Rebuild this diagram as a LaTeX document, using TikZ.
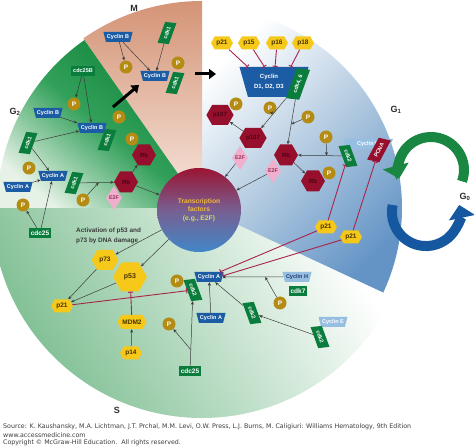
\documentclass[tikz,border=0pt]{standalone}
\usepackage{fontspec}
\setmainfont{Liberation Sans}
\newfontfamily\srcfont{DejaVu Sans}
\usepackage{tikz}
\usetikzlibrary{shapes.geometric,shapes.symbols,arrows.meta,calc}

\definecolor{cycBlue}{RGB}{28,92,165}
\definecolor{cycLight}{RGB}{150,190,225}
\definecolor{cdkGreen}{RGB}{10,125,60}
\definecolor{pGold}{RGB}{180,140,20}
\definecolor{pYel}{RGB}{245,200,25}
\definecolor{rbRed}{RGB}{150,15,45}
\definecolor{rbTxt}{RGB}{80,0,20}
\definecolor{hexTxt}{RGB}{70,50,0}
\definecolor{e2fPink}{RGB}{240,175,205}
\definecolor{e2fTxt}{RGB}{150,50,90}
\definecolor{inhRed}{RGB}{170,35,75}
\definecolor{arrGray}{RGB}{60,60,60}
\definecolor{g2Dark}{RGB}{15,130,55}
\definecolor{g2Mid}{RGB}{50,160,90}
\definecolor{g2Light}{RGB}{230,242,230}
\definecolor{sGreen}{RGB}{125,190,145}
\definecolor{g1Blue}{RGB}{100,148,198}
\definecolor{g1Mid}{RGB}{178,202,224}
\definecolor{mSalmon}{RGB}{212,148,118}
\definecolor{mLight}{RGB}{248,232,224}
\definecolor{tfRed}{RGB}{155,20,50}
\definecolor{tfMid}{RGB}{120,95,145}
\definecolor{tfBlue}{RGB}{65,135,200}
\definecolor{tfTxtA}{RGB}{240,185,60}
\definecolor{tfTxtB}{RGB}{215,215,95}
\definecolor{cycHTxt}{RGB}{35,60,110}
\definecolor{g0Green}{RGB}{25,135,65}
\definecolor{g0Blue}{RGB}{22,88,160}
\definecolor{phaseTxt}{RGB}{45,45,45}

\tikzset{
  cyc/.style={ trapezium, shape border rotate=180, trapezium angle=70, trapezium stretches=true,
    fill=cycBlue, text=white, font=\fontsize{5.5}{6.5}\selectfont\bfseries,
    inner xsep=1pt, inner ysep=1pt, minimum height=10pt }
}
\tikzset{
  cycLt/.style={ cyc, fill=cycLight }
}
\tikzset{
  cdk/.style={ trapezium, trapezium stretches=true, fill=cdkGreen, text=white,
    font=\fontsize{5.5}{6}\selectfont\bfseries, inner sep=0.5pt,
    minimum width=25pt, minimum height=11pt }
}
\tikzset{
  cdkUp/.style={ cdk, trapezium left angle=110, trapezium right angle=70, rotate=70 }
}
\tikzset{
  cdkDn/.style={ cdk, trapezium left angle=70, trapezium right angle=110, rotate=-70 }
}
\tikzset{
  hexY/.style={ signal, signal to=west and east, signal pointer angle=120, fill=pYel,
    text=hexTxt, font=\fontsize{6.5}{7}\selectfont\bfseries, inner sep=1pt,
    minimum width=22pt, minimum height=13pt }
}
\tikzset{
  hexR/.style={ hexY, fill=rbRed, text=rbTxt, font=\fontsize{6}{7}\selectfont\bfseries,
    minimum width=24pt, minimum height=21pt }
}
\tikzset{
  phos/.style={ circle, fill=pGold, text=white, font=\fontsize{6.5}{7}\selectfont\bfseries,
    inner sep=0pt, minimum size=13pt }
}
\tikzset{
  diaE/.style={ diamond, aspect=0.66, fill=e2fPink, text=e2fTxt,
    font=\fontsize{5.4}{6}\selectfont\bfseries, inner sep=0pt,
    minimum width=16pt, minimum height=24pt }
}
\tikzset{
  gbox/.style={ rectangle, fill=cdkGreen, text=white, font=\fontsize{6.5}{7}\selectfont\bfseries,
    inner xsep=2pt, inner ysep=1pt, minimum height=10pt }
}
\tikzset{
  tfc/.style={ circle, minimum size=84pt, top color=tfRed, bottom color=tfBlue, middle color=tfMid,
    align=center, font=\fontsize{6.7}{8.5}\selectfont\bfseries, text=tfTxtA }
}
\tikzset{
  phaseLbl/.style={ font=\fontsize{9}{10}\selectfont\bfseries, text=phaseTxt, inner sep=0pt }
}
\tikzset{
  actLbl/.style={ anchor=west, align=left, font=\fontsize{6.4}{10}\selectfont\bfseries,
    text=arrGray, inner sep=0pt }
}
\tikzset{
  srcLbl/.style={ anchor=west, font=\srcfont\fontsize{6.3}{7}\selectfont, text=arrGray, inner sep=0pt }
}
\tikzset{
  arr/.style={ -{Stealth[length=3.5pt,width=3pt]}, draw=arrGray, line width=0.5pt }
}
\tikzset{
  inh/.style={ -{Bar[width=5pt,line width=1pt]}, draw=inhRed, line width=0.9pt }
}
\tikzset{
  bigarr/.style={ -{Triangle[length=7pt,width=10pt]}, line width=3pt, draw=black }
}
\tikzset{
  g0arr/.style={ line width=10pt, -{Triangle[length=13pt,width=26pt]} }
}

\begin{document}
\begin{tikzpicture}[x=1pt,y=-1pt]
  \useasboundingbox (0,0) rectangle (474,446);
  \fill[white] (0,0) rectangle (474,446);

  % phase sectors
  \coordinate (C) at (202, 208);
  \shade[top color=white, bottom color=sGreen, shading angle=-60]
    (C) -- ++(180:210) arc[start angle=180, end angle=25, radius=210] -- cycle;
  \shade[top color=white, bottom color=g1Blue, middle color=g1Mid, shading angle=45]
    (C) -- ++(-90:200) arc[start angle=-90, end angle=25, radius=200] -- cycle;
  \shade[top color=mSalmon, bottom color=mLight]
    (C) -- ++(-90:207) arc[start angle=-90, end angle=-125, radius=207] -- cycle;
  \shade[top color=g2Dark, bottom color=g2Light, middle color=g2Mid, shading angle=-40]
    (C) -- ++(-125:205) arc[start angle=-125, end angle=-180, radius=205] -- cycle;

  % G0 loop
  \draw[g0arr, draw=g0Green] (462, 181.3) arc[start angle=20, end angle=-195, radius=33];
  \draw[g0arr, draw=g0Blue] (392.7, 205) arc[start angle=-168, end angle=-372, radius=34];

  % phase labels
  \node[phaseLbl] (lbM) at (134, 8) {M};
  \node[phaseLbl] (lbG2) at (15, 112) {G\textsubscript{2}};
  \node[phaseLbl] (lbG1) at (396, 110) {G\textsubscript{1}};
  \node[phaseLbl] (lbS) at (117, 410) {S};
  \node[phaseLbl] (lbG0) at (465, 197) {G\textsubscript{0}};

  % M
  \node[cyc] (cycBm) at (118, 37) {Cyclin B};
  \node[cdkUp] (cdkM) at (167, 33) {cdk1};
  \node[phos] (pM1) at (126, 67) {P};
  \node[cyc] (cycBM) at (155, 76) {Cyclin B};
  \node[cdkUp] (cdkBM) at (175, 83) {cdk1};
  \node[phos] (pM2) at (178, 63) {P};

  % G2
  \node[gbox, font=\fontsize{5.5}{6}\selectfont\bfseries] (cdcB) at (83, 71) {cdc25B};
  \node[phos] (pG1) at (74, 104) {P};
  \node[cyc] (cycBg) at (48, 113) {Cyclin B};
  \node[cyc] (cycBG) at (92, 128) {Cyclin B};
  \node[cdkUp] (cdkBG) at (107, 140) {cdk1};
  \node[phos] (pG2) at (119, 117) {P};
  \node[cdkUp] (cdkG) at (28, 143) {cdk1};
  \node[phos] (pG3) at (132, 139) {P};
  \node[hexR] (rbG2) at (144, 155) {Rb};
  \node[diaE] (e2fG) at (114, 198) {E2F};
  \node[hexR] (rbG) at (126, 182) {Rb};
  \node[phos] (pG4) at (29, 168) {P};
  \node[cyc] (cycAG) at (53, 176) {Cyclin A};
  \node[cdkUp] (cdkAG) at (74, 183) {cdk1};
  \node[cyc] (cycAg) at (18, 187) {Cyclin A};
  \node[phos] (pG5) at (23, 205) {P};
  \node[phos] (pG6) at (83, 200) {P};
  \node[gbox] (cdcA) at (40, 233) {cdc25};

  % G1
  \node[hexY] (p21a) at (222, 43) {p21};
  \node[hexY] (p15) at (249, 43) {p15};
  \node[hexY] (p16) at (277, 43) {p16};
  \node[hexY] (p18) at (303, 43) {p18};
  \node[cyc, minimum width=69pt, minimum height=30pt, trapezium angle=68, align=center,
    font=\fontsize{6}{9.5}\selectfont\bfseries] (cycD) at (274, 82)
    {Cyclin\hspace*{10pt}\\D1, D2, D3\hspace*{10pt}};
  \node[cdkUp, minimum width=35pt, minimum height=13pt] (cdk46) at (298, 84) {cdk4, 6};
  \node[diaE] (e2fP) at (240, 158) {E2F};
  \node[hexR, minimum width=27pt, minimum height=20pt] (p107b) at (253, 138) {p107};
  \node[hexR, minimum width=27pt, minimum height=20pt] (p107a) at (220, 115) {p107};
  \node[phos] (pP1) at (236, 104) {P};
  \node[phos] (pP2) at (270, 108) {P};
  \node[phos] (pP3) at (308, 117) {P};
  \node[diaE] (e2fR) at (273, 171) {E2F};
  \node[hexR] (rbP) at (286, 155) {Rb};
  \node[hexR] (rbP2) at (313, 181) {Rb};
  \node[phos] (pP4) at (329, 173) {P};
  \node[phos] (pP5) at (326, 137) {P};
  \node[cycLt, minimum width=50pt] (cycE) at (368, 144) {Cyclin E};
  \node[cdkDn] (cdk2a) at (348, 156) {cdk2};
  \node[cdk, rotate=62, trapezium left angle=118, trapezium right angle=62, fill=rbRed,
    minimum width=28pt, minimum height=12pt] (pcna) at (379, 150) {PCNA};
  \node[hexY] (p21b) at (326, 227) {p21};
  \node[hexY] (p21c) at (351, 237) {p21};

  % transcription factors
  \node[tfc] (tf) at (199, 210) {Transcription\\factors\\\textcolor{tfTxtB}{(e.g., E2F)}};

  % S
  \node[actLbl] (actTxt) at (76, 236) {Activation of p53 and\\p73 by DNA damage};
  \node[hexY, minimum width=27pt, minimum height=20pt] (p73) at (105, 260) {p73};
  \node[hexY, minimum width=34pt, minimum height=29pt, font=\fontsize{7}{8}\selectfont\bfseries] (p53) at (130, 277) {p53};
  \node[hexY] (p21s) at (62, 306) {p21};
  \node[hexY, minimum width=28pt, minimum height=14pt] (mdm2) at (132, 322) {MDM2};
  \node[hexY] (p14) at (131, 353) {p14};
  \node[phos] (pS1) at (169, 324) {P};
  \node[gbox] (cdcS) at (190, 371) {cdc25};
  \node[cyc] (cycAS) at (209, 277) {Cyclin A};
  \node[phos] (pS2) at (177, 281) {P};
  \node[cdkDn] (cdk2S) at (193, 290) {cdk2};
  \node[cyc] (cycAS2) at (211, 318) {Cyclin A};
  \node[cycLt, text=cycHTxt] (cycH) at (297, 277) {Cyclin H};
  \node[gbox] (cdk7) at (298, 291) {cdk7};
  \node[phos] (pS3) at (280, 303) {P};
  \node[cdkDn] (cdk2S2) at (252, 313) {cdk2};
  \node[cycLt] (cycES) at (333, 322) {Cyclin E};
  \node[cdkDn] (cdk2S3) at (320, 337) {cdk2};

  % big arrows
  \coordinate (g2Out) at (113, 107);
  \coordinate (mIn) at (139, 85);
  \coordinate (mOut) at (195, 74);
  \coordinate (g1In) at (216, 74);
  \draw[bigarr] (g2Out) -- (mIn);
  \draw[bigarr] (mOut) -- (g1In);

  % M links
  \draw[arr] (cycBm) -- (pM1);
  \draw[arr] (cycBm) -- (cycBM);
  \draw[arr] (cdkM) -- (cycBM);

  % G2 links
  \draw[arr] (cdcB) -- (pG1);
  \draw[arr] (cdcB) -- (cycBG);
  \draw[arr] (cycBg) -- (cycBG);
  \draw[arr] (cdkG) -- (cycBG);
  \draw[arr] (cdkG) -- (cycAG);
  \draw[arr] (cycAg) -- (cycAG);
  \draw[arr] (cdcA) -- (pG5);
  \draw[arr] (cdcA) -- (cycAG);
  \draw[arr] (cdkAG) -- coordinate[pos=0.55] (kRb) (rbG);
  \draw[arr] (pG6) -- (kRb);
  \draw[arr] (rbG) -- (rbG2);
  \draw[arr] (rbG) -- (tf);

  % G1 links
  \draw[inh] (p21a) -- (cycD.150);
  \draw[inh] (p15) -- (cycD.122);
  \draw[inh] (p16) -- (cycD.86);
  \draw[inh] (p18) -- (cycD.42);
  \draw[arr] (cdk46) -- coordinate[pos=0.55] (kP107) (p107b);
  \draw[arr] (pP2) -- (kP107);
  \draw[arr] (cdk46) -- coordinate[pos=0.55] (kRbP) (rbP);
  \draw[arr] (pP3) -- (kRbP);
  \draw[arr] (p107b) -- (p107a);
  \draw[arr] (cdk2a) -- coordinate[pos=0.35] (kE) (rbP);
  \draw[arr] (pP5) -- (kE);
  \draw[arr] (rbP) -- (rbP2);
  \draw[arr] (e2fP) -- (tf);
  \draw[arr] (e2fR) -- (tf);
  \draw[inh] (p21b) -- (cdk2a);
  \draw[inh] (p21c) -- (pcna);
  \draw[inh] (p21b) -- (cycAS.25);
  \draw[inh] (p21c) -- (cycAS.5);

  % S links
  \draw[arr] (tf) -- (p73);
  \draw[arr] (tf) -- (p53);
  \draw[arr] (p73) -- (p21s);
  \draw[arr] (p53) -- (p21s);
  \draw[inh] (p21s) -- (cdk2S);
  \draw[inh] (mdm2) -- (p53);
  \draw[arr] (p14) -- (mdm2);
  \draw[arr] (cdcS) -- coordinate[pos=0.25] (kCdc) (cdk2S);
  \draw[arr] (kCdc) -- (pS1);
  \draw[arr] (cycAS2) -- (cycAS);
  \draw[arr] (cycH) -- coordinate[pos=0.3] (kH) (cycAS);
  \draw[arr] (pS3) -- (kH);
  \draw[arr] (cdk2S2) -- (cycAS);
  \draw[arr] (cdk2S3) -- (cdk2S2);

  % source
  \node[srcLbl] (src1) at (3, 427) {Source: K. Kaushansky, M.A. Lichtman, J.T. Prchal, M.M. Levi, O.W. Press, L.J. Burns, M. Caligiuri: Williams Hematology, 9th Edition};
  \node[srcLbl] (src2) at (3, 435) {www.accessmedicine.com};
  \node[srcLbl] (src3) at (3, 443) {Copyright \textcopyright{} McGraw-Hill Education.\ \ All rights reserved.};
\end{tikzpicture}
\end{document}
